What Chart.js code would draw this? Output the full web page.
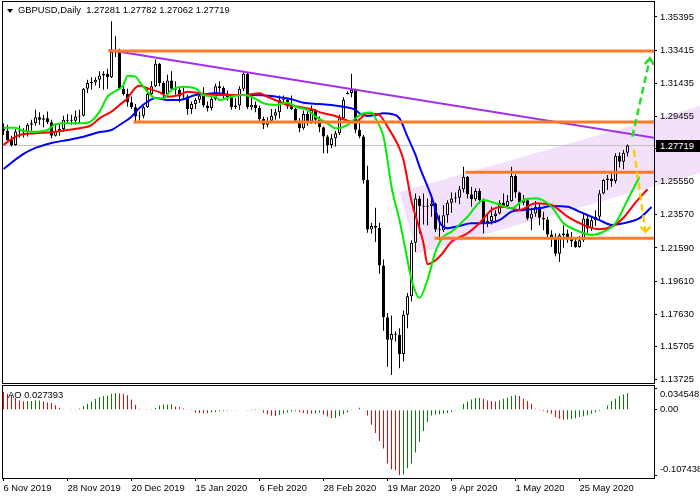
<!DOCTYPE html>
<html>
<head>
<meta charset="utf-8">
<script src="https://cdn.jsdelivr.net/npm/chart.js@4.4.1/dist/chart.umd.min.js"></script>
<style>
  html, body { margin: 0; padding: 0; background: #fff; }
  #wrap { position: relative; width: 700px; height: 500px; overflow: hidden; font-family: 'Liberation Sans', Arial, sans-serif; }
  #main { position: absolute; left: 0; top: 0; }
  #osc { position: absolute; left: 0; top: 385px; }
  .lbl { position: absolute; font-size: 9.4px; line-height: 11px; color: #000; white-space: pre; }
  #head { left: 18px; top: 4px; }
  #tri { position: absolute; left: 7px; top: 9px; width: 0; height: 0; border-left: 3px solid transparent; border-right: 3px solid transparent; border-top: 4px solid #000; }
  #last { left: 656px; top: 140px; width: 44px; height: 12px; line-height: 12px; background: #000; color: #fff; padding-left: 4px; box-sizing: border-box; }
  #aoLbl { left: 8px; top: 389px; }
</style>
</head>
<body>
<div id="wrap">
  <canvas id="main" width="700" height="384"></canvas>
  <canvas id="osc" width="700" height="115"></canvas>
  <div id="tri"></div>
  <div class="lbl" id="head">GBPUSD,Daily  1.27281 1.27782 1.27062 1.27719</div>
  <div class="lbl" id="last">1.27719</div>
  <div class="lbl" id="aoLbl">AO 0.027393</div>
</div>
<script>
// bar index of each date label on the time axis
const tickBars = [0, 16, 32, 48, 64, 80, 96, 112, 128, 144]
const tickLabels = ['6 Nov 2019', '28 Nov 2019', '20 Dec 2019', '15 Jan 2020', '6 Feb 2020',
  '28 Feb 2020', '19 Mar 2020', '9 Apr 2020', '1 May 2020', '25 May 2020']
const priceTicks = [1.35395, 1.33415, 1.31435, 1.29455, 1.27530, 1.25550, 1.23570, 1.21590, 1.19610, 1.17630, 1.15705, 1.13725]
const aoTicks = [0.034548, 0, -0.107438]
const lastPrice = 1.27719

// daily GBPUSD candles, one per bar
const open = [
  1.2875,1.2860,1.2805,1.2775,1.2855,1.2860,1.2850,1.2895,1.2905,1.2940,
  1.2925,1.2935,1.2910,1.2830,1.2860,1.2870,1.2925,1.2920,1.2920,1.2945,
  1.2950,1.3110,1.3145,1.3150,1.3165,1.3190,1.3200,1.3180,1.3330,1.3335,
  1.3110,1.3080,1.3030,1.3000,1.2945,1.2950,1.3000,1.3080,1.3125,1.3260,
  1.3145,1.3080,1.3160,1.3110,1.3105,1.3065,1.3065,1.2990,1.3020,1.3045,
  1.3070,1.3010,1.2995,1.3050,1.3125,1.3115,1.3075,1.3060,1.3000,1.3010,
  1.3110,1.3200,1.3000,1.3015,1.2995,1.2930,1.2895,1.2920,1.2950,1.2970,
  1.3045,1.3045,1.3005,1.2990,1.2920,1.2875,1.2960,1.2915,1.2985,1.2925,
  1.2880,1.2825,1.2775,1.2815,1.2845,1.2935,1.3080,1.3085,1.3105,1.2865,
  1.2825,1.2565,1.2270,1.2290,1.2280,1.2055,1.1745,1.1610,1.1645,1.1640,
  1.1525,1.1760,1.1870,1.2190,1.2455,1.2410,1.2405,1.2410,1.2425,1.2270,
  1.2265,1.2355,1.2430,1.2455,1.2460,1.2510,1.2585,1.2480,1.2450,1.2500,
  1.2445,1.2305,1.2320,1.2350,1.2365,1.2430,1.2410,1.2440,1.2590,1.2490,
  1.2430,1.2445,1.2335,1.2365,1.2405,1.2340,1.2330,1.2240,1.2215,1.2125,
  1.2235,1.2245,1.2225,1.2200,1.2165,1.2205,1.2335,1.2275,1.2325,1.2345,
  1.2485,1.2565,1.2575,1.2560,1.2710,1.2675,1.27281
]
const high = [
  1.2905,1.2895,1.2830,1.2870,1.2890,1.2875,1.2905,1.2925,1.2985,1.2970,
  1.2955,1.2975,1.2925,1.2895,1.2900,1.2950,1.2960,1.2955,1.2980,1.2985,
  1.3115,1.3165,1.3180,1.3180,1.3215,1.3215,1.3230,1.3514,1.3425,1.3350,
  1.3150,1.3110,1.3065,1.3020,1.2975,1.3010,1.3120,1.3155,1.3285,1.3265,
  1.3155,1.3195,1.3215,1.3155,1.3120,1.3120,1.3075,1.3035,1.3055,1.3085,
  1.3120,1.3035,1.3060,1.3140,1.3155,1.3125,1.3100,1.3080,1.3055,1.3125,
  1.3210,1.3205,1.3055,1.3035,1.3010,1.2945,1.2940,1.2990,1.2990,1.3070,
  1.3070,1.3050,1.3070,1.3000,1.2935,1.2980,1.2975,1.3010,1.2990,1.2945,
  1.2885,1.2835,1.2840,1.2860,1.2955,1.3060,1.3095,1.3200,1.3110,1.2925,
  1.2835,1.2650,1.2310,1.2400,1.2310,1.2090,1.1770,1.1755,1.1660,1.1680,
  1.1785,1.1890,1.2205,1.2485,1.2470,1.2485,1.2455,1.2480,1.2430,1.2355,
  1.2415,1.2445,1.2490,1.2490,1.2530,1.2645,1.2590,1.2525,1.2515,1.2515,
  1.2455,1.2360,1.2405,1.2385,1.2445,1.2485,1.2475,1.2645,1.2600,1.2495,
  1.2475,1.2450,1.2400,1.2440,1.2420,1.2375,1.2345,1.2265,1.2245,1.2245,
  1.2295,1.2270,1.2255,1.2225,1.2230,1.2360,1.2350,1.2345,1.2385,1.2505,
  1.2570,1.2595,1.2615,1.2725,1.2730,1.2745,1.27782
]
const low = [
  1.2835,1.2800,1.2765,1.2770,1.2820,1.2820,1.2825,1.2860,1.2890,1.2895,
  1.2880,1.2900,1.2815,1.2825,1.2830,1.2855,1.2900,1.2895,1.2895,1.2905,
  1.2945,1.3085,1.3105,1.3130,1.3115,1.3105,1.3110,1.3175,1.3300,1.3105,
  1.3070,1.3005,1.2990,1.2905,1.2920,1.2935,1.2995,1.3070,1.3120,1.3125,
  1.3055,1.3075,1.3095,1.3075,1.3030,1.3045,1.2955,1.2960,1.2990,1.3025,
  1.3000,1.2975,1.2980,1.3040,1.3090,1.3050,1.3040,1.2985,1.2990,1.2985,
  1.3095,1.2990,1.2985,1.2970,1.2915,1.2870,1.2880,1.2905,1.2925,1.2935,
  1.3020,1.2990,1.2985,1.2910,1.2850,1.2865,1.2890,1.2900,1.2900,1.2850,
  1.2725,1.2725,1.2755,1.2765,1.2835,1.2930,1.3078,1.3060,1.2845,1.2815,
  1.2545,1.2250,1.2245,1.2195,1.2005,1.1665,1.1450,1.1400,1.1600,1.1440,
  1.1480,1.1680,1.1840,1.2135,1.2245,1.2300,1.2295,1.2345,1.2255,1.2205,
  1.2255,1.2310,1.2370,1.2430,1.2420,1.2490,1.2455,1.2405,1.2440,1.2425,
  1.2245,1.2285,1.2300,1.2310,1.2360,1.2400,1.2395,1.2435,1.2460,1.2380,
  1.2415,1.2325,1.2265,1.2345,1.2295,1.2265,1.2225,1.2165,1.2110,1.2075,
  1.2160,1.2190,1.2165,1.2160,1.2160,1.2195,1.2250,1.2260,1.2290,1.2330,
  1.2480,1.2505,1.2525,1.2545,1.2640,1.2630,1.27062
]
const close = [
  1.2860,1.2805,1.2775,1.2855,1.2860,1.2850,1.2895,1.2905,1.2940,1.2925,
  1.2935,1.2910,1.2830,1.2860,1.2870,1.2925,1.2920,1.2920,1.2945,1.2950,
  1.3110,1.3145,1.3150,1.3165,1.3190,1.3200,1.3180,1.3330,1.3335,1.3110,
  1.3080,1.3030,1.3000,1.2945,1.2950,1.3000,1.3080,1.3125,1.3260,1.3145,
  1.3080,1.3160,1.3110,1.3105,1.3065,1.3065,1.2990,1.3020,1.3045,1.3070,
  1.3010,1.2995,1.3050,1.3125,1.3115,1.3075,1.3060,1.3000,1.3010,1.3110,
  1.3200,1.3000,1.3015,1.2995,1.2930,1.2895,1.2920,1.2950,1.2970,1.3045,
  1.3045,1.3005,1.2990,1.2920,1.2875,1.2960,1.2915,1.2985,1.2925,1.2880,
  1.2825,1.2775,1.2815,1.2845,1.2935,1.3045,1.3085,1.3105,1.2865,1.2825,
  1.2565,1.2270,1.2290,1.2280,1.2055,1.1745,1.1610,1.1645,1.1640,1.1525,
  1.1760,1.1870,1.2190,1.2455,1.2410,1.2405,1.2410,1.2425,1.2270,1.2265,
  1.2355,1.2430,1.2455,1.2460,1.2510,1.2585,1.2480,1.2450,1.2500,1.2445,
  1.2305,1.2320,1.2350,1.2365,1.2430,1.2410,1.2440,1.2590,1.2490,1.2430,
  1.2445,1.2335,1.2365,1.2405,1.2340,1.2330,1.2240,1.2215,1.2125,1.2235,
  1.2245,1.2225,1.2200,1.2165,1.2205,1.2335,1.2275,1.2325,1.2345,1.2485,
  1.2565,1.2575,1.2560,1.2710,1.2675,1.2728,1.27719
]

// Awesome Oscillator, one value per bar
const ao = [
  0.0290,0.0263,0.0236,0.0197,0.0154,0.0138,0.0142,0.0145,0.0150,0.0152,
  0.0140,0.0120,0.0110,0.0072,0.0033,0.0012,0.0006,0.0003,0.0005,0.0022,
  0.0060,0.0098,0.0137,0.0175,0.0207,0.0224,0.0230,0.0262,0.0273,0.0268,
  0.0262,0.0240,0.0169,0.0076,0.0017,0.0008,0.0005,0.0004,0.0028,0.0071,
  0.0087,0.0088,0.0089,0.0055,0.0044,0.0022,0.0011,0.0002,-0.0049,-0.0054,
  -0.0056,-0.0057,-0.0046,-0.0040,-0.0027,-0.0022,-0.0017,-0.0012,-0.0011,-0.0010,
  -0.0009,-0.0006,-0.0002,0.0001,0.0002,-0.0050,-0.0076,-0.0098,-0.0104,-0.0087,
  -0.0066,-0.0044,-0.0033,-0.0027,-0.0038,-0.0055,-0.0066,-0.0067,-0.0060,-0.0050,
  -0.0077,-0.0110,-0.0142,-0.0137,-0.0109,-0.0076,-0.0044,0.0005,0.0010,0.0033,
  0.0000,-0.0093,-0.0245,-0.0382,-0.0518,-0.0638,-0.0884,-0.0982,-0.0993,-0.1074,
  -0.1063,-0.0961,-0.0884,-0.0704,-0.0529,-0.0349,-0.0202,-0.0093,-0.0082,-0.0076,
  -0.0065,-0.0055,-0.0038,-0.0011,0.0011,0.0098,0.0136,0.0169,0.0191,0.0192,
  0.0180,0.0153,0.0142,0.0136,0.0153,0.0180,0.0196,0.0224,0.0240,0.0224,
  0.0180,0.0142,0.0098,0.0016,-0.0001,-0.0022,-0.0044,-0.0065,-0.0120,-0.0147,
  -0.0164,-0.0160,-0.0153,-0.0142,-0.0120,-0.0109,-0.0087,-0.0065,-0.0044,-0.0022,
  -0.0010,0.0071,0.0142,0.0180,0.0224,0.0251,0.02739
]

// Alligator lines at sample bars
const jawBar = [0,5,8,12,16,20,24,27,29,32,34,36,38,41,44,48,51,53,57,62,67,69,72,75,79,82,85,88,89,91,93,95,97,99,101,103,104,107,109,111,114,117,120,124,127,130,134,137,141,144,149,152,155,159,162]
const jawPrice = [1.2631,1.2721,1.2757,1.2787,1.2804,1.2824,1.2852,1.2864,1.2894,1.2944,1.2996,1.3033,1.3055,1.3044,1.3044,1.3073,1.3079,1.3085,1.3073,1.3073,1.3067,1.3060,1.3048,1.3027,1.3020,1.3014,1.3003,1.2984,1.2964,1.2948,1.2954,1.2964,1.2960,1.2934,1.2824,1.2715,1.2645,1.2466,1.2316,1.2277,1.2291,1.2307,1.2307,1.2326,1.2376,1.2386,1.2396,1.2410,1.2406,1.2376,1.2326,1.2297,1.2307,1.2337,1.2404]
const teethBar = [0,2,4,8,12,16,19,22,24,27,29,31,33,34,36,39,41,44,46,49,53,56,60,64,66,69,71,74,77,80,83,85,88,89,91,93,94,96,99,100,102,105,106,109,112,116,119,122,125,129,133,137,141,145,149,152,155,158,161]
const teethPrice = [1.2775,1.2810,1.2834,1.2845,1.2851,1.2864,1.2874,1.2894,1.2934,1.2974,1.3014,1.3054,1.3117,1.3129,1.3113,1.3090,1.3063,1.3073,1.3093,1.3084,1.3073,1.3073,1.3073,1.3084,1.3063,1.3033,1.3014,1.3003,1.2988,1.2964,1.2948,1.2928,1.2908,1.2928,1.2964,1.2960,1.2954,1.2884,1.2755,1.2685,1.2440,1.2187,1.2062,1.2107,1.2197,1.2247,1.2307,1.2386,1.2406,1.2386,1.2426,1.2416,1.2346,1.2297,1.2271,1.2286,1.2340,1.2430,1.2510]
const lipsBar = [0,3,5,8,11,13,16,20,22,24,26,28,30,31,33,34,36,38,40,42,45,48,50,53,54,57,60,62,65,68,71,73,76,78,81,83,86,88,90,92,93,95,96,97,99,101,102,104,106,108,110,112,116,120,123,127,130,133,137,140,143,147,150,153,156,159]
const lipsPrice = [1.2878,1.2878,1.2858,1.2854,1.2864,1.2898,1.2904,1.2904,1.2918,1.2974,1.3063,1.3097,1.3133,1.3189,1.3183,1.3153,1.3093,1.3054,1.3054,1.3103,1.3123,1.3113,1.3073,1.3063,1.3044,1.3063,1.3073,1.3063,1.3024,1.3014,1.3027,1.3003,1.2984,1.2944,1.2904,1.2874,1.2894,1.2934,1.2964,1.2968,1.2934,1.2824,1.2685,1.2525,1.2326,1.2087,1.1970,1.1862,1.1968,1.2137,1.2227,1.2256,1.2346,1.2446,1.2426,1.2396,1.2446,1.2456,1.2406,1.2307,1.2267,1.2237,1.2256,1.2307,1.2446,1.2585]

// drawn objects: horizontal levels (start bar, price), trend line, channel, forecast arrows
const levelStart = [26.25, 32.5, 115.5, 107.75]
const levelPrice = [1.3336, 1.2912, 1.2611, 1.2217]
const trendBar = [26.25, 162.75]
const trendPrice = [1.3342, 1.2818]
const channelBar = [99, 174.25, 174.25, 103.25]
const channelPrice = [1.2494, 1.3008, 1.2607, 1.2123]
const upArrowBar = [157.2, 161.6]
const upArrowPrice = [1.2824, 1.3293]
const upHeadBar = [160.3, 161.6, 162.6]
const upHeadPrice = [1.3259, 1.3293, 1.3253]
const downArrowBar = [157.6, 160.5]
const downArrowPrice = [1.2745, 1.2256]
const downHeadBar = [159.25, 160.5, 161.75]
const downHeadPrice = [1.2285, 1.2256, 1.2286]

const rightBar = 175
const font = {family: 'Liberation Sans', size: 9.4}
const channelColor = 'rgb(243,225,251)'

function pts(xs, ys) {
    return xs.map((x, i) => ({x: x, y: ys[i]}))
}

function lineSet(data, color, width, order, extra) {
    return Object.assign({
        type: 'line', data: data, borderColor: color, borderWidth: width,
        pointRadius: 0, fill: false, tension: 0, order: order
    }, extra || {})
}

// keep the plot area fixed: no label padding added around axes
function fixPad(s) {
    s.paddingTop = 0
    s.paddingBottom = 0
    s.paddingLeft = 0
    s.paddingRight = 0
}

const frame = {
    id: 'frame',
    afterDraw(chart) {
        const a = chart.chartArea
        const ctx = chart.ctx
        ctx.save()
        ctx.strokeStyle = '#000'
        ctx.lineWidth = 1
        ctx.strokeRect(a.left - 0.5, a.top - 0.5, a.right - a.left + 1, a.bottom - a.top + 1)
        ctx.restore()
    }
}

// the channel shading also runs on under the price scale, behind its labels
const channelTail = {
    id: 'channelTail',
    beforeDraw(chart) {
        const a = chart.chartArea
        const ctx = chart.ctx
        const sx = chart.scales.x
        const sy = chart.scales.y
        ctx.save()
        ctx.beginPath()
        ctx.rect(a.right, 0, chart.width - a.right, chart.height)
        ctx.clip()
        ctx.beginPath()
        channelBar.forEach((b, i) => {
            const px = sx.getPixelForValue(b)
            const py = sy.getPixelForValue(channelPrice[i])
            if (i === 0) ctx.moveTo(px, py)
            else ctx.lineTo(px, py)
        })
        ctx.closePath()
        ctx.fillStyle = channelColor
        ctx.fill()
        ctx.restore()
    }
}

const bars = open.map((v, i) => i)
const datasets = [
    lineSet(pts(channelBar, channelPrice), 'rgba(0,0,0,0)', 0, 30,
        {fill: 'shape', backgroundColor: channelColor}),
    lineSet([{x: -1, y: lastPrice}, {x: rightBar, y: lastPrice}], '#c0c0c0', 1, 29),
    {
        type: 'bar', data: bars.map(i => ({x: i, y: [low[i], high[i]]})),
        backgroundColor: '#000', barThickness: 1, grouped: false,
        borderWidth: 0, inflateAmount: 0, order: 21
    },
    {
        type: 'bar', data: bars.map(i => ({x: i, y: [open[i], close[i]]})),
        backgroundColor: bars.map(i => close[i] >= open[i] ? '#fff' : '#000'),
        borderColor: '#000', borderWidth: 1, borderSkipped: false,
        barThickness: 3, minBarLength: 1, grouped: false, inflateAmount: 0, order: 20
    },
    lineSet(pts(jawBar, jawPrice), '#0000ff', 2, 12, {cubicInterpolationMode: 'monotone'}),
    lineSet(pts(teethBar, teethPrice), '#ff0000', 2, 11, {cubicInterpolationMode: 'monotone'}),
    lineSet(pts(lipsBar, lipsPrice), '#00ee00', 2, 10, {cubicInterpolationMode: 'monotone'}),
    lineSet(pts(trendBar, trendPrice), '#a030ec', 2, 5)
]
levelPrice.forEach((p, k) => {
    datasets.push(lineSet([{x: levelStart[k], y: p}, {x: rightBar, y: p}], 'rgb(255,122,40)', 3, 4))
})
datasets.push(lineSet(pts(upArrowBar, upArrowPrice), '#22e022', 2.5, 1, {borderDash: [7, 4]}))
datasets.push(lineSet(pts(upHeadBar, upHeadPrice), '#22e022', 2.5, 1))
datasets.push(lineSet(pts(downArrowBar, downArrowPrice), '#ffcc00', 2.5, 1, {borderDash: [7, 4]}))
datasets.push(lineSet(pts(downHeadBar, downHeadPrice), '#ffcc00', 2.5, 1))

new Chart(document.querySelector('#main'), {
    type: 'bar',
    data: {datasets: datasets},
    options: {
        responsive: false,
        animation: false,
        events: [],
        layout: {padding: {left: 3, top: 2, right: 0, bottom: 1}},
        plugins: {legend: {display: false}, tooltip: {enabled: false}},
        scales: {
            x: {type: 'linear', min: -0.125, max: 162.625, offset: false, display: false},
            y: {
                type: 'linear', position: 'right', min: 1.13522, max: 1.36291,
                afterFit: s => { s.width = 46; fixPad(s) },
                afterBuildTicks: s => { s.ticks = priceTicks.map(v => ({value: v})) },
                grid: {drawOnChartArea: false, tickLength: 3, color: '#000'},
                border: {color: '#000'},
                ticks: {autoSkip: false, padding: 3, color: '#000', font: font, callback: v => v.toFixed(5)}
            }
        }
    },
    plugins: [channelTail, frame]
})

// the oscillator's top and bottom scale labels sit just inside the panel
function aoLabel(v) {
    if (v === 0) return '0.00'
    return v > 0 ? ['', v.toFixed(6)] : [v.toFixed(6), '']
}

new Chart(document.querySelector('#osc'), {
    type: 'bar',
    data: {
        datasets: [{
            data: ao.map((v, i) => ({x: i, y: v})),
            backgroundColor: ao.map((v, i) => i > 0 && v >= ao[i - 1] ? '#008000' : '#ff0000'),
            barThickness: 1, borderWidth: 0, inflateAmount: 0
        }]
    },
    options: {
        responsive: false,
        animation: false,
        events: [],
        layout: {padding: {left: 3, top: 1, right: 0, bottom: 0}},
        plugins: {legend: {display: false}, tooltip: {enabled: false}},
        scales: {
            x: {
                type: 'linear', min: -0.125, max: 162.625, offset: false,
                afterBuildTicks: s => { s.ticks = tickBars.map(v => ({value: v})) },
                afterFit: s => { s.height = 22; fixPad(s) },
                grid: {drawOnChartArea: false, offset: false, tickLength: 3, color: '#000'},
                border: {color: '#000'},
                ticks: {
                    autoSkip: false, maxRotation: 0, align: 'start', padding: 2, color: '#000', font: font,
                    callback: v => tickLabels[tickBars.indexOf(v)]
                }
            },
            y: {
                type: 'linear', position: 'right', min: -0.1122, max: 0.0390,
                afterFit: s => { s.width = 46; fixPad(s) },
                afterBuildTicks: s => { s.ticks = aoTicks.map(v => ({value: v})) },
                grid: {drawOnChartArea: false, tickLength: 3, color: '#000'},
                border: {color: '#000'},
                ticks: {autoSkip: false, padding: 3, color: '#000', font: font, callback: aoLabel}
            }
        }
    },
    plugins: [frame]
})
</script>
</body>
</html>
